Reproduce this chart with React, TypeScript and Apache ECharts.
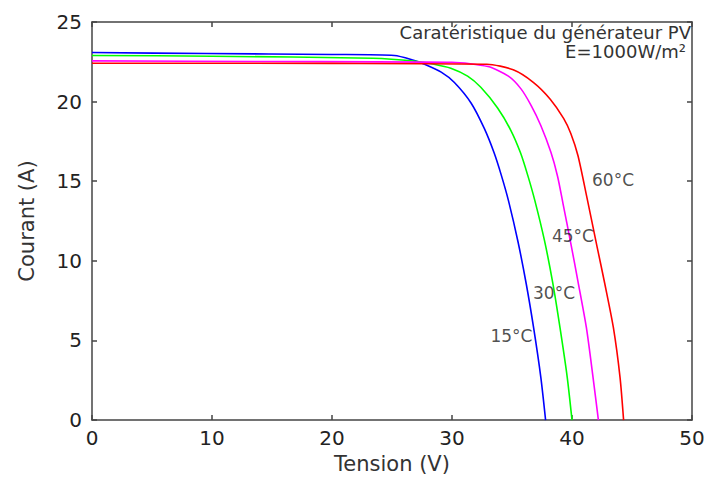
import React, { useEffect, useRef } from "react";
import * as echarts from "echarts";

// Tension (V), Courant (A)
const curve15: number[][] = [[0,23.08],[9.5,23.02],[20,22.96],[25.2,22.9],[26.8,22.6],[27.7,22.35],[29.1,21.85],[30.2,21.2],[31.6,19.9],[32.7,18.3],[33.5,16.8],[34.1,15.4],[34.7,13.8],[35.5,11.2],[36.2,8.5],[36.8,5.8],[37.4,2.7],[37.8,0]];
const curve30: number[][] = [[0,22.9],[10,22.85],[23.4,22.72],[26.8,22.55],[28.5,22.35],[29.9,22.1],[31.3,21.6],[32.4,20.9],[33.8,19.6],[34.9,18.2],[35.7,16.8],[36.3,15.4],[36.9,13.8],[37.7,11.3],[38.4,8.6],[39.0,5.8],[39.6,2.7],[40.0,0]];
const curve45: number[][] = [[0,22.56],[15,22.52],[30,22.47],[33.0,22.2],[34.7,21.6],[35.75,20.8],[36.6,19.75],[37.4,18.5],[38.25,16.8],[38.8,15.3],[39.25,13.6],[39.9,11.1],[40.5,8.7],[41.2,5.8],[41.75,2.7],[42.2,0]];
const curve60: number[][] = [[0,22.41],[20,22.4],[32.9,22.35],[35.1,22.0],[36.8,21.2],[38.17,20.17],[39.3,18.95],[39.9,18.0],[40.5,16.6],[41.25,13.95],[42.1,10.85],[42.75,8.5],[43.45,5.8],[44.0,2.7],[44.3,0]];

const seriesNames = ["15°C", "30°C", "45°C", "60°C"];
const seriesColors = ["#0000ff", "#00ff00", "#ff00ff", "#ff0000"];
const curves = [curve15, curve30, curve45, curve60];

// annotation anchors (V, A) for temperature labels
const labelPoints: (number | string)[][] = [[33.2,5.3,"15°C"],[36.75,8.0,"30°C"],[38.33,11.55,"45°C"],[41.67,15.1,"60°C"]];

const titleLine1 = "Caratéristique du générateur PV";
const titleLine2 = "E=1000W/m²";
const xName = "Tension (V)";
const yName = "Courant (A)";

const FONT = "DejaVu Sans";
const AX = "#444444";

export default function App() {
  const ref = useRef<HTMLDivElement>(null);
  useEffect(() => {
    const chart = echarts.init(ref.current!, null, { renderer: "svg" });
    const axisCommon = {
      axisLine: { show: true, onZero: false, lineStyle: { color: AX, width: 1.5 } },
      axisTick: { show: true, inside: true, length: 5, lineStyle: { color: AX, width: 1.5 } },
      splitLine: { show: false },
    };
    chart.setOption({
      animation: false,
      backgroundColor: "#ffffff",
      grid: { left: 92, right: 16, top: 22, bottom: 55, containLabel: false },
      xAxis: [
        {
          type: "value", min: 0, max: 50, interval: 10, position: "bottom",
          name: xName, nameLocation: "middle", nameGap: 31,
          nameTextStyle: { fontFamily: FONT, fontSize: 21, color: "#333" },
          axisLabel: { fontFamily: FONT, fontSize: 20, color: "#222", margin: 8 },
          ...axisCommon,
        },
        {
          type: "value", min: 0, max: 50, interval: 10, position: "top",
          axisLabel: { show: false },
          ...axisCommon,
        },
      ],
      yAxis: [
        {
          type: "value", min: 0, max: 25, interval: 5, position: "left",
          name: yName, nameLocation: "middle", nameGap: 55,
          nameTextStyle: { fontFamily: FONT, fontSize: 21, color: "#333" },
          axisLabel: { fontFamily: FONT, fontSize: 20, color: "#222", margin: 10 },
          ...axisCommon,
        },
        {
          type: "value", min: 0, max: 25, interval: 5, position: "right",
          axisLabel: { show: false },
          ...axisCommon,
        },
      ],
      series: [
        ...curves.map((c, i) => ({
          type: "line",
          name: seriesNames[i],
          data: c,
          showSymbol: false,
          smooth: 0.25,
          lineStyle: { color: seriesColors[i], width: 1.6 },
          z: 2 + i,
        })),
        {
          type: "scatter",
          data: labelPoints,
          symbolSize: 0,
          label: {
            show: true,
            position: "right",
            distance: 0,
            formatter: (p: any) => p.value[2],
            fontFamily: FONT,
            fontSize: 17,
            color: "#222",
          },
          z: 10,
        },
      ],
      graphic: [
        {
          type: "text", right: 17, top: 23,
          style: { text: titleLine1, fontFamily: FONT, fontSize: 18, lineHeight: 18, fill: "#333" },
        },
        {
          type: "text", right: 22, top: 42,
          style: { text: titleLine2, fontFamily: FONT, fontSize: 18, lineHeight: 18, fill: "#333" },
        },
      ],
    });
    return () => chart.dispose();
  }, []);
  return <div ref={ref} style={{ width: 708, height: 479, position: "absolute", left: 0, top: 0 }} />;
}
